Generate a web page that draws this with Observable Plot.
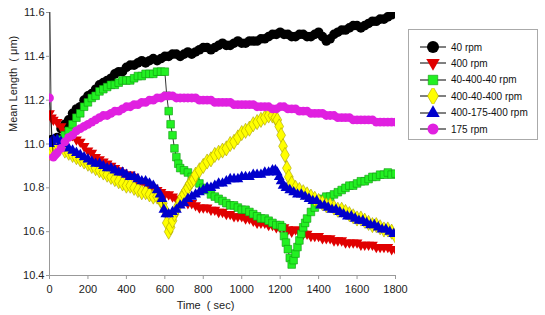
<!DOCTYPE html>
<html><head><meta charset="utf-8">
<script src="https://cdn.jsdelivr.net/npm/d3@7"></script>
<script src="https://cdn.jsdelivr.net/npm/@observablehq/plot@0.6"></script>
<style>
body{margin:0;background:#fff;font-family:"Liberation Sans",Arial,sans-serif;}
#wrap{position:relative;width:545px;height:315px;overflow:hidden;}
#legend{position:absolute;left:408px;top:29px;width:130px;height:111px;border:1px solid #aaa;box-sizing:border-box;background:#fff;}
.item{position:absolute;left:10px;height:16px;display:flex;align-items:center;font-size:10px;color:#111;}
.item svg{margin-right:4px;}
</style></head>
<body><div id="wrap"><div id="legend"></div></div>
<script>
const seriesNames = ["40 rpm","400 rpm","40-400-40 rpm","400-40-400 rpm","400-175-400 rpm","175 rpm"];
const xTicks = [0,200,400,600,800,1000,1200,1400,1600,1800];
const yTicks = [10.4,10.6,10.8,11.0,11.2,11.4,11.6];
const xTitle = "Time  ( sec)";
const yTitle = "Mean Length  ( μm)";

// [time (sec), mean length (µm)]
const rpm40 = [[0,11.75],[10,11.02],[20,11.01],[40,11.03],[60,11.07],[80,11.09],[100,11.11],[120,11.14],[140,11.16],[160,11.17],[180,11.20],[200,11.22],[220,11.23],[240,11.25],[260,11.27],[280,11.28],[300,11.29],[320,11.30],[340,11.32],[360,11.33],[380,11.33],[400,11.35],[420,11.36],[440,11.36],[460,11.37],[480,11.38],[500,11.37],[520,11.38],[540,11.39],[560,11.38],[580,11.39],[600,11.40],[620,11.40],[640,11.41],[660,11.41],[680,11.40],[700,11.41],[720,11.42],[740,11.41],[760,11.42],[780,11.43],[800,11.44],[820,11.44],[840,11.43],[860,11.44],[880,11.45],[900,11.46],[920,11.45],[940,11.45],[960,11.46],[980,11.47],[1000,11.46],[1020,11.46],[1040,11.47],[1060,11.47],[1080,11.47],[1100,11.48],[1120,11.48],[1140,11.49],[1160,11.50],[1180,11.50],[1200,11.51],[1220,11.50],[1240,11.50],[1260,11.49],[1280,11.49],[1300,11.50],[1320,11.50],[1340,11.49],[1360,11.49],[1380,11.50],[1400,11.51],[1420,11.49],[1440,11.47],[1460,11.48],[1480,11.50],[1500,11.51],[1520,11.52],[1540,11.52],[1560,11.53],[1580,11.54],[1600,11.54],[1620,11.53],[1640,11.54],[1660,11.55],[1680,11.56],[1700,11.56],[1720,11.57],[1740,11.57],[1760,11.58],[1780,11.59],[1800,11.60]];
const rpm400 = [[0,11.14],[10,11.12],[20,11.11],[40,11.10],[60,11.08],[80,11.06],[100,11.05],[120,11.04],[140,11.02],[160,11.01],[180,10.99],[200,10.97],[220,10.96],[240,10.94],[260,10.93],[280,10.92],[300,10.91],[320,10.90],[340,10.89],[360,10.88],[380,10.87],[400,10.86],[420,10.86],[440,10.85],[460,10.83],[480,10.83],[500,10.82],[520,10.80],[540,10.80],[560,10.79],[580,10.78],[600,10.77],[620,10.77],[640,10.76],[660,10.75],[680,10.75],[700,10.74],[720,10.73],[740,10.73],[760,10.72],[780,10.71],[800,10.71],[820,10.71],[840,10.70],[860,10.70],[880,10.69],[900,10.69],[920,10.68],[940,10.68],[960,10.67],[980,10.67],[1000,10.67],[1020,10.66],[1040,10.66],[1060,10.65],[1080,10.64],[1100,10.64],[1120,10.64],[1140,10.63],[1160,10.63],[1180,10.62],[1200,10.62],[1220,10.62],[1240,10.61],[1260,10.60],[1280,10.61],[1300,10.60],[1320,10.59],[1340,10.59],[1360,10.58],[1380,10.58],[1400,10.58],[1420,10.57],[1440,10.57],[1460,10.57],[1480,10.56],[1500,10.56],[1520,10.56],[1540,10.55],[1560,10.55],[1580,10.55],[1600,10.55],[1620,10.54],[1640,10.54],[1660,10.54],[1680,10.54],[1700,10.53],[1720,10.53],[1740,10.53],[1760,10.53],[1780,10.52],[1800,10.52]];
const rpm40_400_40 = [[0,10.95],[10,10.95],[20,10.96],[40,10.99],[60,11.02],[80,11.04],[100,11.06],[120,11.09],[140,11.12],[160,11.14],[180,11.17],[200,11.19],[220,11.21],[240,11.22],[260,11.24],[280,11.25],[300,11.26],[320,11.27],[340,11.27],[360,11.28],[380,11.29],[400,11.29],[420,11.29],[440,11.30],[460,11.31],[480,11.31],[500,11.32],[520,11.32],[540,11.32],[560,11.33],[580,11.33],[600,11.33],[610,11.22],[620,11.15],[630,11.09],[640,11.04],[650,10.98],[660,10.94],[670,10.91],[680,10.89],[700,10.88],[720,10.87],[740,10.85],[760,10.84],[780,10.82],[800,10.80],[820,10.79],[840,10.77],[860,10.76],[880,10.75],[900,10.74],[920,10.73],[940,10.72],[960,10.72],[980,10.71],[1000,10.70],[1020,10.70],[1040,10.69],[1060,10.68],[1080,10.67],[1100,10.66],[1120,10.66],[1140,10.65],[1160,10.64],[1180,10.63],[1200,10.63],[1210,10.62],[1220,10.58],[1230,10.55],[1240,10.52],[1250,10.48],[1260,10.45],[1270,10.47],[1280,10.50],[1290,10.53],[1300,10.56],[1310,10.59],[1320,10.62],[1330,10.64],[1340,10.66],[1360,10.69],[1380,10.71],[1400,10.73],[1420,10.75],[1440,10.76],[1460,10.76],[1480,10.77],[1500,10.78],[1520,10.79],[1540,10.80],[1560,10.81],[1580,10.81],[1600,10.82],[1620,10.83],[1640,10.83],[1660,10.84],[1680,10.85],[1700,10.85],[1720,10.86],[1740,10.86],[1760,10.87],[1780,10.86],[1800,10.865]];
const rpm400_40_400 = [[0,10.96],[10,10.97],[20,10.98],[40,11.00],[60,10.99],[80,10.97],[100,10.96],[120,10.95],[140,10.94],[160,10.93],[180,10.92],[200,10.91],[220,10.90],[240,10.89],[260,10.88],[280,10.87],[300,10.86],[320,10.85],[340,10.84],[360,10.83],[380,10.82],[400,10.81],[420,10.81],[440,10.80],[460,10.79],[480,10.78],[500,10.78],[520,10.77],[540,10.76],[560,10.76],[580,10.74],[590,10.73],[600,10.70],[610,10.64],[620,10.60],[630,10.62],[640,10.65],[650,10.68],[660,10.70],[670,10.72],[680,10.74],[690,10.76],[700,10.77],[710,10.79],[720,10.80],[730,10.82],[740,10.83],[750,10.84],[760,10.86],[780,10.88],[800,10.90],[820,10.92],[840,10.93],[860,10.95],[880,10.96],[900,10.97],[920,10.98],[940,11.00],[960,11.01],[980,11.03],[1000,11.05],[1020,11.06],[1040,11.07],[1060,11.09],[1080,11.10],[1100,11.11],[1120,11.12],[1140,11.13],[1160,11.13],[1175,11.12],[1185,11.11],[1195,11.08],[1205,11.04],[1215,10.99],[1225,10.95],[1235,10.89],[1245,10.85],[1260,10.82],[1280,10.80],[1300,10.79],[1320,10.78],[1340,10.77],[1360,10.76],[1380,10.75],[1400,10.74],[1420,10.73],[1440,10.72],[1460,10.72],[1480,10.71],[1500,10.70],[1520,10.70],[1540,10.69],[1560,10.68],[1580,10.67],[1600,10.66],[1620,10.66],[1640,10.65],[1660,10.64],[1680,10.63],[1700,10.63],[1720,10.62],[1740,10.61],[1760,10.61],[1780,10.60],[1800,10.58]];
const rpm400_175_400 = [[0,11.00],[10,11.01],[20,11.02],[40,11.02],[60,11.01],[80,11.00],[100,10.98],[120,10.97],[140,10.96],[160,10.95],[180,10.94],[200,10.93],[220,10.92],[240,10.91],[260,10.91],[280,10.90],[300,10.89],[320,10.89],[340,10.88],[360,10.87],[380,10.87],[400,10.86],[420,10.85],[440,10.85],[460,10.84],[480,10.83],[500,10.83],[520,10.82],[540,10.81],[560,10.79],[575,10.77],[585,10.75],[595,10.70],[605,10.68],[620,10.68],[640,10.69],[660,10.70],[680,10.72],[700,10.73],[720,10.75],[740,10.76],[760,10.77],[780,10.78],[800,10.79],[820,10.80],[840,10.80],[860,10.81],[880,10.82],[900,10.82],[920,10.83],[940,10.84],[960,10.84],[980,10.84],[1000,10.85],[1020,10.85],[1040,10.85],[1060,10.86],[1080,10.86],[1100,10.86],[1120,10.87],[1140,10.87],[1160,10.88],[1175,10.88],[1185,10.87],[1195,10.85],[1205,10.83],[1215,10.81],[1230,10.80],[1250,10.79],[1270,10.78],[1290,10.77],[1310,10.77],[1330,10.76],[1350,10.75],[1370,10.74],[1390,10.74],[1410,10.72],[1430,10.72],[1450,10.71],[1470,10.70],[1490,10.70],[1510,10.69],[1530,10.68],[1550,10.67],[1570,10.67],[1590,10.66],[1610,10.65],[1630,10.65],[1650,10.64],[1670,10.63],[1690,10.63],[1710,10.62],[1730,10.61],[1750,10.61],[1770,10.60],[1790,10.59]];
const rpm175 = [[0,11.21],[20,10.94],[30,10.95],[40,10.96],[60,10.98],[80,11.01],[100,11.03],[120,11.04],[140,11.06],[160,11.07],[180,11.08],[200,11.09],[220,11.10],[240,11.11],[260,11.12],[280,11.13],[300,11.13],[320,11.14],[340,11.15],[360,11.15],[380,11.16],[400,11.17],[420,11.17],[440,11.18],[460,11.18],[480,11.19],[500,11.19],[520,11.20],[540,11.20],[560,11.21],[580,11.21],[600,11.22],[620,11.22],[640,11.22],[660,11.21],[680,11.21],[700,11.21],[720,11.21],[740,11.21],[760,11.21],[780,11.20],[800,11.20],[820,11.20],[840,11.20],[860,11.19],[880,11.19],[900,11.19],[920,11.19],[940,11.19],[960,11.18],[980,11.18],[1000,11.18],[1020,11.18],[1040,11.18],[1060,11.18],[1080,11.17],[1100,11.17],[1120,11.17],[1140,11.17],[1160,11.16],[1180,11.16],[1200,11.17],[1220,11.17],[1240,11.16],[1260,11.16],[1280,11.16],[1300,11.15],[1320,11.15],[1340,11.15],[1360,11.14],[1380,11.14],[1400,11.14],[1420,11.14],[1440,11.13],[1460,11.13],[1480,11.13],[1500,11.12],[1520,11.12],[1540,11.12],[1560,11.12],[1580,11.11],[1600,11.11],[1620,11.11],[1640,11.11],[1660,11.11],[1680,11.11],[1700,11.10],[1720,11.10],[1740,11.10],[1760,11.10],[1780,11.10],[1800,11.10]];

const triangleDown = {draw(ctx, size){ const s = Math.sqrt(size*4/Math.sqrt(3)); const h = s*Math.sqrt(3)/2; ctx.moveTo(-s/2,-h/3); ctx.lineTo(s/2,-h/3); ctx.lineTo(0,2*h/3); ctx.closePath(); }};
const styles = [
  {data: rpm40, symbol: "circle", fill: "#000000", stroke: "none", r: 4.8},
  {data: rpm400, symbol: triangleDown, fill: "#e00000", stroke: "none", r: 4.0},
  {data: rpm40_400_40, symbol: "square", fill: "#22f022", stroke: "#119911", r: 4.3},
  {data: rpm400_40_400, symbol: "diamond", fill: "#ffff00", stroke: "#a8a000", r: 4.6},
  {data: rpm400_175_400, symbol: "triangle", fill: "#0000cc", stroke: "none", r: 4.0},
  {data: rpm175, symbol: "circle", fill: "#e020e0", stroke: "none", r: 4.4}
];

const marks = [];
styles.forEach(s => {
  marks.push(Plot.line(s.data, {x: d => d[0], y: d => d[1], stroke: "#000", strokeWidth: 0.8, clip: true}));
  marks.push(Plot.dot(s.data, {x: d => d[0], y: d => d[1], symbol: () => s.symbol, fill: s.fill, stroke: s.stroke, strokeWidth: 0.6, r: s.r, clip: true}));
});

const chart = Plot.plot({
  width: 545, height: 315,
  marginLeft: 49, marginRight: 150, marginTop: 12, marginBottom: 40,
  style: {fontFamily: "'Liberation Sans', Arial, sans-serif", fontSize: "11px", color: "#222", background: "#fff"},
  x: {domain: [0,1800]},
  y: {domain: [10.4,11.6]},
  symbol: {type: "identity"},
  marks: [
    Plot.ruleY([10.4], {stroke: "#999"}),
    Plot.ruleX([0], {stroke: "#999"}),
    ...marks,
    Plot.axisX({ticks: xTicks, tickSize: 4, tickPadding: 6, tickFormat: d3.format("d"), stroke: "#999", label: null, color: "#222"}),
    Plot.axisY({ticks: yTicks, tickSize: 3, tickPadding: 2, tickFormat: d3.format(".1f"), stroke: "#999", label: null, color: "#222"}),
    Plot.text([xTitle], {frameAnchor: "bottom", dx: -17, dy: 33, fontSize: 11, fill: "#222"}),
    Plot.text([yTitle], {frameAnchor: "left", dx: -36, dy: -12, rotate: -90, fontSize: 11, fill: "#222"})
  ]
});
document.getElementById("wrap").prepend(chart);

const legend = document.getElementById("legend");
styles.forEach((s, i) => {
  const div = document.createElement("div");
  div.className = "item";
  div.style.top = (9 + i*16.4) + "px";
  const svg = d3.create("svg").attr("width", 28).attr("height", 16);
  svg.append("line").attr("x1", 1).attr("x2", 27).attr("y1", 8).attr("y2", 8).attr("stroke", "#000").attr("stroke-width", 1);
  const symMap = {circle: d3.symbolCircle, square: d3.symbolSquare, diamond: d3.symbolDiamond, triangle: d3.symbolTriangle};
  const sym = typeof s.symbol === "string" ? symMap[s.symbol] : s.symbol;
  const rr = s.r * 1.25;
  svg.append("path").attr("d", d3.symbol(sym, Math.PI*rr*rr)()).attr("transform", "translate(14,8)")
     .attr("fill", s.fill).attr("stroke", s.stroke).attr("stroke-width", 0.6);
  div.appendChild(svg.node());
  const span = document.createElement("span");
  span.textContent = seriesNames[i];
  div.appendChild(span);
  legend.appendChild(div);
});
</script></body></html>
